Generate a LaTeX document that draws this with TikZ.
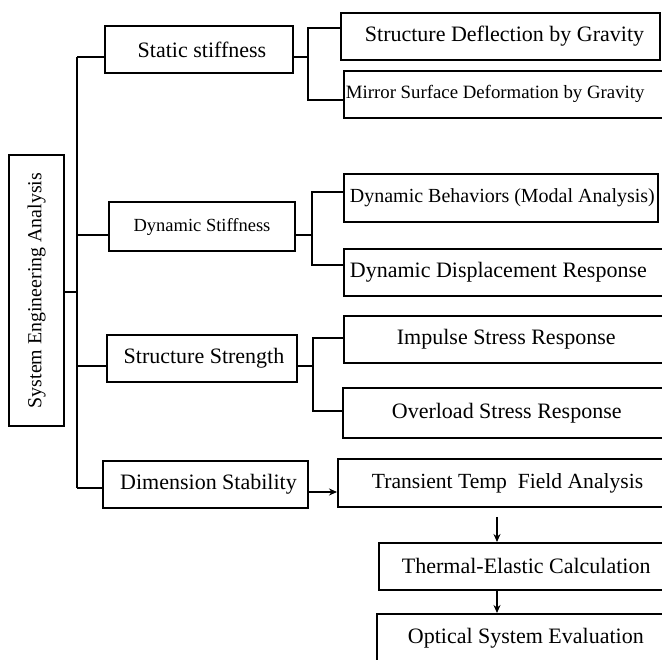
\documentclass[tikz,border=0pt]{standalone}
\usepackage{fontspec}
\setmainfont{Liberation Serif}
\usepackage{graphicx}
\usetikzlibrary{arrows.meta}
\newcommand\fsz[1]{\fontsize{#1pt}{#1pt}\selectfont}
\newcommand\lpad[3]{\makebox[#1pt][l]{\hspace*{#2pt}#3}}
\tikzset{
  box/.style={draw, line width=1.8pt, inner sep=0pt, font=\fsz{22}},
  lbox/.style={box, anchor=north west},
  ln/.style={line width=1.4pt},
  arr/.style={line width=1.2pt, -{Stealth[length=8pt,width=7pt]}},
}
\begin{document}
\begin{tikzpicture}[x=1pt,y=-1pt]
\useasboundingbox (0,0) rectangle (662,660);
\clip (0,0) rectangle (662,660);
% left column
\node[box, minimum width=55pt, minimum height=271pt, font=\fsz{19.9}] (sea) at (36.5,290.5) {\rotatebox{90}{System Engineering Analysis}};
\node[box, minimum width=188pt, minimum height=47pt] (static) at (199,49.5) {\hspace*{6pt}Static stiffness};
\node[box, minimum width=186pt, minimum height=49pt, font=\fsz{18.5}] (dyn) at (202,226.5) {Dynamic Stiffness};
\node[box, minimum width=190pt, minimum height=47pt] (strength) at (202,358.5) {\hspace*{4pt}Structure Strength};
\node[box, minimum width=205pt, minimum height=47pt] (dim) at (205.5,484.5) {\hspace*{6pt}Dimension Stability};
% right column
\node[lbox, minimum width=319pt, minimum height=47pt] (defl) at (340,12) {\lpad{319}{24}{Structure Deflection by Gravity}};
\node[lbox, minimum width=357pt, minimum height=47pt, font=\fsz{18.8}] (mirror) at (343,70) {\lpad{357}{2}{Mirror Surface Deformation by Gravity}};
\node[lbox, minimum width=314pt, minimum height=48pt, font=\fsz{20}] (modal) at (343,173) {\lpad{314}{6}{Dynamic Behaviors (Modal Analysis)}};
\node[lbox, minimum width=357pt, minimum height=47pt] (disp) at (343,248) {\lpad{357}{6}{Dynamic Displacement Response}};
\node[lbox, minimum width=357pt, minimum height=47pt] (impulse) at (343,315) {\lpad{357}{53}{Impulse Stress Response}};
\node[lbox, minimum width=358pt, minimum height=50pt] (overload) at (342,387) {\lpad{358}{49}{Overload Stress Response}};
\node[lbox, minimum width=363pt, minimum height=48pt, font=\fsz{21.6}] (transient) at (337,458) {\lpad{363}{34}{Transient Temp\ \ Field Analysis}};
\node[lbox, minimum width=322pt, minimum height=47pt] (thermal) at (378,542) {\lpad{322}{23}{Thermal-Elastic Calculation}};
\node[lbox, minimum width=324pt, minimum height=49pt] (optical) at (376,613) {\lpad{324}{31}{Optical System Evaluation}};
% trunk
\coordinate (t1) at (77,57);
\coordinate (t2) at (77,235);
\coordinate (ts) at (77,292);
\coordinate (t3) at (77,366);
\coordinate (t4) at (77,488);
\draw[ln] (t1) -- (t4);
\draw[ln] (sea.east |- ts) -- (ts);
\draw[ln] (t1) -- (static.west |- t1);
\draw[ln] (t2) -- (dyn.west |- t2);
\draw[ln] (t3) -- (strength.west |- t3);
\draw[ln] (t4) -- (dim.west |- t4);
% static branch
\coordinate (b1) at (308,57);
\coordinate (b1a) at (308,28);
\coordinate (b1b) at (308,100);
\draw[ln] (static.east |- b1) -- (b1);
\draw[ln] (defl.west |- b1a) -- (b1a) -- (b1b) -- (mirror.west |- b1b);
% dynamic branch
\coordinate (b2) at (312,235);
\coordinate (b2a) at (312,192);
\coordinate (b2b) at (312,265);
\draw[ln] (dyn.east |- b2) -- (b2);
\draw[ln] (modal.west |- b2a) -- (b2a) -- (b2b) -- (disp.west |- b2b);
% strength branch
\coordinate (b3) at (313,366);
\coordinate (b3a) at (313,338);
\coordinate (b3b) at (313,411);
\draw[ln] (strength.east |- b3) -- (b3);
\draw[ln] (impulse.west |- b3a) -- (b3a) -- (b3b) -- (overload.west |- b3b);
% thermal chain
\coordinate (ay) at (0,492);
\coordinate (ax) at (497,0);
\draw[arr] (dim.east |- ay) -- (transient.west |- ay);
\draw[arr, shorten <=9pt] (transient.south -| ax) -- (thermal.north -| ax);
\draw[arr] (thermal.south -| ax) -- (optical.north -| ax);
\end{tikzpicture}
\end{document}
